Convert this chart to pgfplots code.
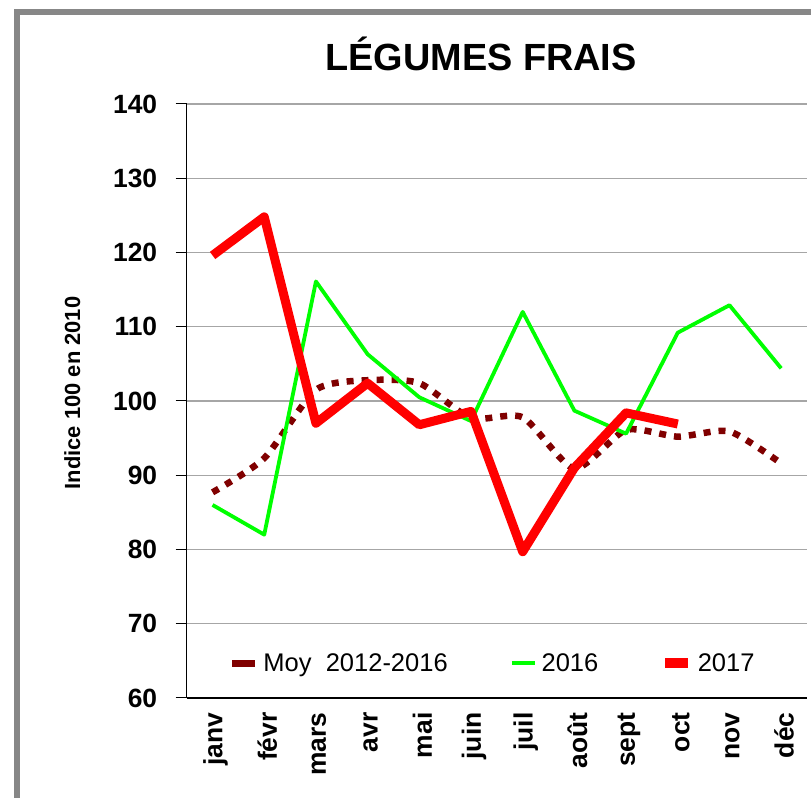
\documentclass[border=0pt]{standalone}
\usepackage{pgfplots}
\pgfplotsset{compat=1.18}
\usepackage{fontspec}
\setmainfont{Liberation Sans}
\definecolor{moy}{HTML}{800000}
\definecolor{vert}{HTML}{00FF00}
\definecolor{rouge}{HTML}{FF0000}
\definecolor{cadre}{HTML}{878787}
\definecolor{grille}{HTML}{A6A6A6}

\begin{document}
\begin{tikzpicture}[x=1bp,y=1bp]
\useasboundingbox (0,0) rectangle (811,798);
\clip (0,0) rectangle (811,798);
\draw[cadre, line width=5.5bp] (17,-10) -- (17,786) -- (830,786);
\begin{axis}[
  at={(186.7bp,100bp)}, anchor=south west,
  scale only axis, width=620.3bp, height=594bp,
  xmin=0.5, xmax=12.5, ymin=60, ymax=140,
  axis x line=bottom, axis y line=left,
  axis line style={-, black, line width=1.2bp},
  xtick={1,...,12},
  xticklabels={janv,févr,mars,avr,mai,juin,juil,août,sept,oct,nov,déc},
  xtick style={draw=none},
  minor xtick={0.5,1.5,...,12.5},
  minor x tick style={black, line width=1bp},
  minor tick length=9bp,
  ytick={60,70,...,140},
  ytick style={black, line width=1bp},
  major tick length=11bp,
  tick align=outside,
  ymajorgrids,
  major grid style={grille, line width=1.4bp},
  /pgf/number format/assume math mode=true,
  ticklabel style={font=\fontsize{26.5}{29}\selectfont\bfseries},
  xticklabel style={rotate=90, anchor=east, yshift=-3bp},
  yticklabel style={xshift=-15bp},
  title={LÉGUMES FRAIS},
  title style={at={(axis description cs:0.4745,1.0455)}, anchor=base,
    font=\fontsize{38}{40}\selectfont\bfseries},
  ylabel={Indice 100 en 2010},
  ylabel style={at={(axis description cs:-0.172,0.5135)}, anchor=base,
    font=\fontsize{22}{24}\selectfont\bfseries},
  legend columns=3,
  legend cell align=left,
  legend style={at={(axis description cs:0.0681,0.0589)}, anchor=west,
    draw=none, fill=none, inner sep=0pt, outer sep=0pt,
    font=\fontsize{25.6}{28}\selectfont,
    nodes={inner sep=0pt},
    /tikz/every odd column/.append style={column sep=4.5bp},
    /tikz/every even column/.append style={column sep=62bp}},
  clip=false,
]
\addplot[moy, line width=6.5bp, dash pattern=on 7bp off 8bp, smooth, tension=0.4,
  legend image code/.code={\draw[moy, solid, line width=7bp] (0bp,0bp) -- (23bp,0bp);}]
  coordinates {(1,87.7) (2,92.3) (3,101.5) (4,102.8) (5,102.4) (6,97.7) (7,97.8) (8,90.9) (9,96.1) (10,95.2) (11,95.9) (12,91.6)};
\addlegendentry{Moy\ \ 2012-2016}
\addplot[vert, line width=3.8bp, line join=round,
  legend image code/.code={\draw[vert, solid, line width=4.3bp] (0bp,0bp) -- (23bp,0bp);}]
  coordinates {(1,86.0) (2,82.0) (3,116.1) (4,106.3) (5,100.5) (6,97.3) (7,112.0) (8,98.7) (9,95.6) (10,109.2) (11,112.9) (12,104.4)};
\addlegendentry{2016}
\addplot[rouge, line width=9bp, line join=round,
  legend image code/.code={\draw[rouge, solid, line width=10bp] (0bp,0bp) -- (23bp,0bp);}]
  coordinates {(1,119.6) (2,124.8) (3,97.0) (4,102.4) (5,96.8) (6,98.6) (7,79.7) (8,91.0) (9,98.4) (10,96.9)};
\addlegendentry{2017}
\end{axis}
\end{tikzpicture}
\end{document}
